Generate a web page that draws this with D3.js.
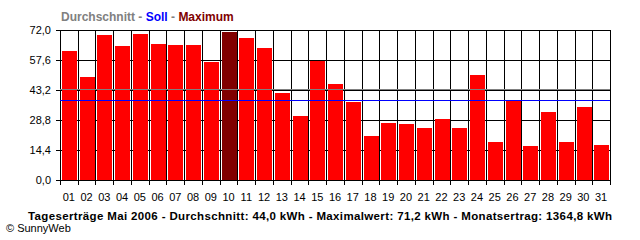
<!DOCTYPE html>
<html>
<head>
<meta charset="utf-8">
<script src="https://cdn.jsdelivr.net/npm/d3@7"></script>
<style>
  html, body { margin: 0; padding: 0; background: #fff; }
  svg { display: block; }
  text { font-family: "Liberation Sans", Arial, sans-serif; }
</style>
</head>
<body>
<svg id="chart" width="640" height="240"></svg>
<script>
const days = ["01","02","03","04","05","06","07","08","09","10","11","12","13","14","15","16",
              "17","18","19","20","21","22","23","24","25","26","27","28","29","30","31"];
const yields = [61.9, 49.5, 69.6, 64.3, 70.1, 65.3, 64.8, 64.8, 56.7, 71.2, 68.2, 63.4, 41.8, 30.7, 57.3, 46.1,
                37.5, 21.3, 27.4, 26.9, 25.0, 29.3, 25.0, 50.4, 18.3, 38.6, 16.3, 32.7, 18.3, 35.1, 16.8];
const yTicks = [0, 14.4, 28.8, 43.2, 57.6, 72.0];
const average = 44.0;
const target = 38.4;
const maxValue = 71.2;
const titleParts = [
  {text: "Durchschnitt", color: "#808080"},
  {text: " - ", color: "#808080"},
  {text: "Soll", color: "#0000ff"},
  {text: " - ", color: "#808080"},
  {text: "Maximum", color: "#800000"}
];
const footer = "Tageserträge Mai 2006 - Durchschnitt: 44,0 kWh - Maximalwert: 71,2 kWh - Monatsertrag: 1364,8 kWh";
const copyright = "© SunnyWeb";

(function () {
const svg = d3.select("#chart");
const pLeft = 60, pRight = 610, pTop = 30, pBottom = 180;
const fmt = v => v.toFixed(1).replace(".", ",");
const crisp = v => Math.round(v) + 0.5;

const x = d3.scaleBand().domain(days).range([pLeft, pRight]).padding(0);
const y = d3.scaleLinear().domain([0, 72]).range([pBottom, pTop]);

const g = svg.append("g").attr("shape-rendering", "crispEdges");

// horizontal grid lines
g.selectAll(".hgrid").data(yTicks).join("line")
  .attr("x1", pLeft).attr("x2", pRight)
  .attr("y1", d => crisp(y(d))).attr("y2", d => crisp(y(d)))
  .attr("stroke", "#000").attr("stroke-width", 1);

// vertical grid lines (column boundaries) + x ticks
const bounds = days.map(d => x(d)).concat([pRight]);
g.selectAll(".vgrid").data(bounds).join("line")
  .attr("x1", d => crisp(d)).attr("x2", d => crisp(d))
  .attr("y1", pTop).attr("y2", pBottom + 5)
  .attr("stroke", "#000").attr("stroke-width", 1);

// y ticks
g.selectAll(".ytick").data(yTicks).join("line")
  .attr("x1", pLeft - 4).attr("x2", pLeft + 1)
  .attr("y1", d => crisp(y(d))).attr("y2", d => crisp(y(d)))
  .attr("stroke", "#000");

// bars
g.selectAll(".bar").data(days).join("rect")
  .attr("x", d => Math.round(x(d)) + 2)
  .attr("width", 15)
  .attr("y", (d, i) => y(yields[i]))
  .attr("height", (d, i) => y(0) - y(yields[i]))
  .attr("fill", (d, i) => yields[i] === maxValue ? "#800000" : "#ff0000");

// average & target lines
g.append("line")
  .attr("x1", pLeft).attr("x2", pRight)
  .attr("y1", crisp(y(average)) + 1).attr("y2", crisp(y(average)) + 1)
  .attr("stroke", "#808080").attr("stroke-width", 1);
g.append("line")
  .attr("x1", pLeft).attr("x2", pRight)
  .attr("y1", crisp(y(target))).attr("y2", crisp(y(target)))
  .attr("stroke", "#0000ff").attr("stroke-width", 1);

// x axis line
g.append("line").attr("x1", pLeft).attr("x2", pRight + 1)
  .attr("y1", crisp(pBottom)).attr("y2", crisp(pBottom)).attr("stroke", "#000");

// y labels
svg.selectAll(".ylab").data(yTicks).join("text")
  .attr("x", 51).attr("y", d => y(d) + 4)
  .attr("text-anchor", "end")
  .attr("font-size", 11)
  .text(d => fmt(d));

// x labels
svg.selectAll(".xlab").data(days).join("text")
  .attr("x", d => x(d) + x.bandwidth() / 2)
  .attr("y", 201)
  .attr("text-anchor", "middle")
  .attr("font-size", 11)
  .text(d => d);

// title
const t = svg.append("text").attr("x", 61).attr("y", 21)
  .attr("font-size", 12).attr("font-weight", "bold");
t.selectAll("tspan").data(titleParts).join("tspan")
  .attr("fill", d => d.color)
  .text(d => d.text);

// footer
svg.append("text").attr("x", 28).attr("y", 220)
  .attr("font-size", 11.5).attr("font-weight", "bold")
  .attr("textLength", 584).attr("lengthAdjust", "spacing")
  .text(footer);

svg.append("text").attr("x", 6).attr("y", 232)
  .attr("font-size", 11)
  .text(copyright);
})();
</script>
</body>
</html>
